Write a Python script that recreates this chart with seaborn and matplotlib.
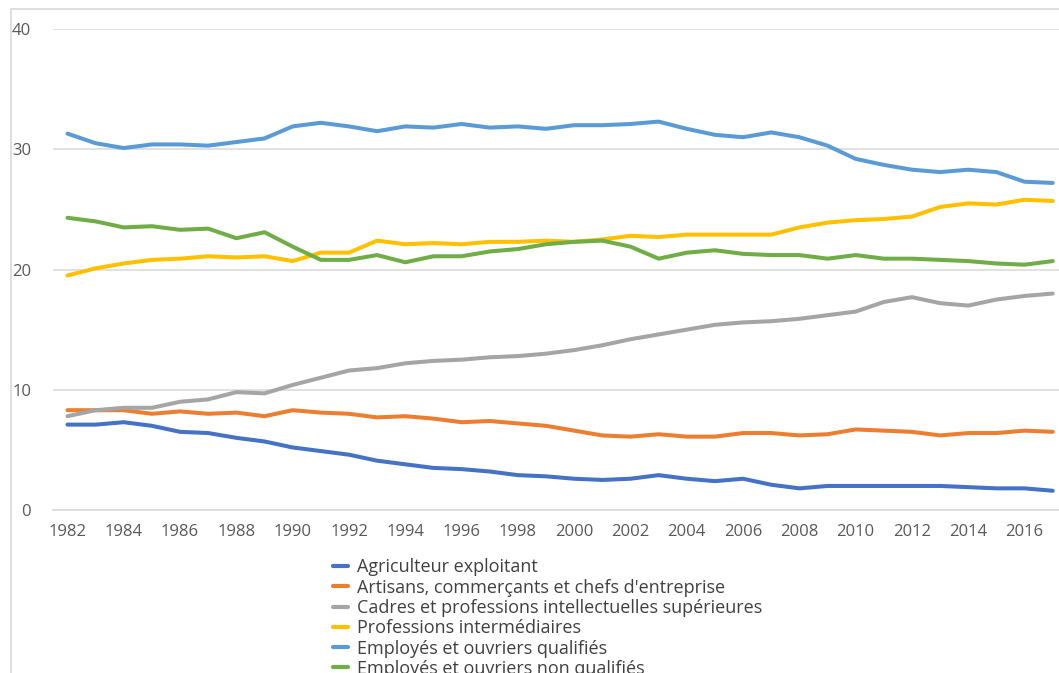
import matplotlib
matplotlib.use("Agg")
import matplotlib.pyplot as plt
import seaborn as sns
import pandas as pd
from matplotlib.patches import Rectangle
from matplotlib.lines import Line2D

years = list(range(1982, 2018))

agriculteur = [7.1, 7.1, 7.3, 7.0, 6.5, 6.4, 6.0, 5.7, 5.2, 4.9, 4.6, 4.1, 3.8, 3.5, 3.4, 3.2,
               2.9, 2.8, 2.6, 2.5, 2.6, 2.9, 2.6, 2.4, 2.6, 2.1, 1.8, 2.0, 2.0, 2.0, 2.0, 2.0,
               1.9, 1.8, 1.8, 1.6]
artisans = [8.3, 8.3, 8.3, 8.0, 8.2, 8.0, 8.1, 7.8, 8.3, 8.1, 8.0, 7.7, 7.8, 7.6, 7.3, 7.4,
            7.2, 7.0, 6.6, 6.2, 6.1, 6.3, 6.1, 6.1, 6.4, 6.4, 6.2, 6.3, 6.7, 6.6, 6.5, 6.2,
            6.4, 6.4, 6.6, 6.5]
cadres = [7.8, 8.3, 8.5, 8.5, 9.0, 9.2, 9.8, 9.7, 10.4, 11.0, 11.6, 11.8, 12.2, 12.4, 12.5, 12.7,
          12.8, 13.0, 13.3, 13.7, 14.2, 14.6, 15.0, 15.4, 15.6, 15.7, 15.9, 16.2, 16.5, 17.3, 17.7, 17.2,
          17.0, 17.5, 17.8, 18.0]
intermediaires = [19.5, 20.1, 20.5, 20.8, 20.9, 21.1, 21.0, 21.1, 20.7, 21.4, 21.4, 22.4, 22.1, 22.2, 22.1, 22.3,
                  22.3, 22.4, 22.3, 22.5, 22.8, 22.7, 22.9, 22.9, 22.9, 22.9, 23.5, 23.9, 24.1, 24.2, 24.4, 25.2,
                  25.5, 25.4, 25.8, 25.7]
qualifies = [31.3, 30.5, 30.1, 30.4, 30.4, 30.3, 30.6, 30.9, 31.9, 32.2, 31.9, 31.5, 31.9, 31.8, 32.1, 31.8,
             31.9, 31.7, 32.0, 32.0, 32.1, 32.3, 31.7, 31.2, 31.0, 31.4, 31.0, 30.3, 29.2, 28.7, 28.3, 28.1,
             28.3, 28.1, 27.3, 27.2]
non_qualifies = [24.3, 24.0, 23.5, 23.6, 23.3, 23.4, 22.6, 23.1, 21.9, 20.8, 20.8, 21.2, 20.6, 21.1, 21.1, 21.5,
                 21.7, 22.1, 22.3, 22.4, 21.9, 20.9, 21.4, 21.6, 21.3, 21.2, 21.2, 20.9, 21.2, 20.9, 20.9, 20.8,
                 20.7, 20.5, 20.4, 20.7]

labels = ["Agriculteur exploitant",
          "Artisans, commerçants et chefs d'entreprise",
          "Cadres et professions intellectuelles supérieures",
          "Professions intermédiaires",
          "Employés et ouvriers qualifiés",
          "Employés et ouvriers non qualifiés"]
series = [agriculteur, artisans, cadres, intermediaires, qualifies, non_qualifies]
colors = ["#4472C4", "#ED7D31", "#A5A5A5", "#FFC000", "#5B9BD5", "#70AD47"]

df = pd.concat([pd.DataFrame({"year": years, "value": s, "cat": l}) for s, l in zip(series, labels)])

sns.set_style("white")
plt.rcParams['font.family'] = ['Open Sans', 'DejaVu Sans']

W, H = 1059, 673
fig = plt.figure(figsize=(W / 100, H / 100), dpi=100)
left_px, right_px = 53.4, 1066.8
top_px, bot_px = 29, 510
ax = fig.add_axes([left_px / W, (H - bot_px) / H, (right_px - left_px) / W, (bot_px - top_px) / H])

sns.lineplot(data=df, x="year", y="value", hue="cat", palette=colors, hue_order=labels,
             linewidth=2.9, ax=ax, legend=False)

ax.set_xlim(1981.5, 2017.5)
ax.set_ylim(0, 40)
ax.set_yticks([0, 10, 20, 30, 40])
ax.yaxis.grid(True, color="#d9d9d9", linewidth=1.1)
ax.set_axisbelow(True)
ax.set_xticks(list(range(1982, 2017, 2)))
ax.set_xticks([1981.5 + k for k in range(37)], minor=True)
ax.tick_params(axis="x", which="major", length=0, pad=10, labelsize=12, labelcolor="#595959")
ax.tick_params(axis="x", which="minor", length=6, width=1, color="#d9d9d9", direction="out")
ax.tick_params(axis="y", length=0, pad=16, labelsize=12, labelcolor="#595959")
ax.set_xlabel("")
ax.set_ylabel("")
for s in ["left", "right", "top"]:
    ax.spines[s].set_visible(False)
ax.spines["bottom"].set_color("#d9d9d9")
ax.spines["bottom"].set_linewidth(1.1)

# outer chart border (partially cropped)
fig.patches.append(Rectangle((11 / W, -0.2), 1.5, (H - 9) / H + 0.2, transform=fig.transFigure,
                             fill=False, edgecolor="#d9d9d9", linewidth=1.2))

handles = [Line2D([0], [0], color=c, linewidth=3) for c in colors]
fig.legend(handles, labels, loc="upper left", bbox_to_anchor=(333 / W, (H - 558.5) / H),
           frameon=False, fontsize=13, handlelength=0.85, handletextpad=0.5,
           labelspacing=0.125, labelcolor="#404040", borderaxespad=0, borderpad=0)

fig.savefig("out.png", dpi=100)
